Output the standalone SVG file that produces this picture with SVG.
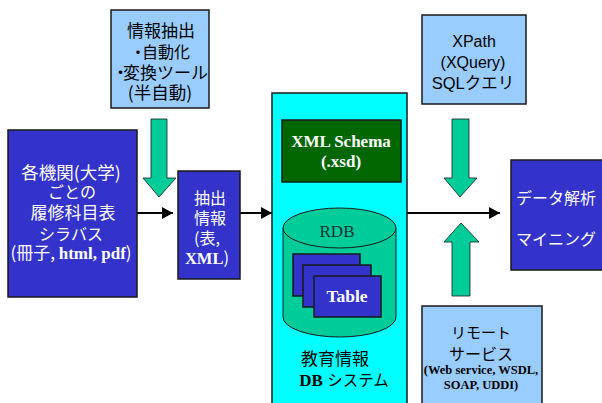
<svg xmlns="http://www.w3.org/2000/svg" width="602" height="403" viewBox="0 0 602 403">
<style>
text{font-family:"Liberation Serif","Noto Sans CJK JP",serif;text-anchor:middle}
.j{font-family:"Noto Sans CJK JP","Liberation Sans",sans-serif}
.s{font-family:"Liberation Sans","Noto Sans CJK JP",sans-serif}
.b{font-weight:bold}
.w{fill:#fff}
.k{fill:#000}
.lb{fill:#99ccff;stroke:#1a1a1a;stroke-width:1.5}
.db{fill:#3333cc;stroke:#1a1a1a;stroke-width:1.5}
.ga{fill:#00cc99;stroke:#1a1a1a;stroke-width:.8}
.c{stroke:#000;stroke-width:2;fill:none;marker-end:url(#h)}
</style>
<defs><marker id="h" markerUnits="userSpaceOnUse" markerWidth="12" markerHeight="12" refX="11" refY="6" orient="auto"><path d="M0 0L11 6L0 12Z" fill="#000"/></marker></defs>
<rect width="602" height="403" fill="#fff"/>
<g id="connectors">
<path class="c" d="M137 213H173"/>
<path class="c" d="M240 213H272"/>
<path class="c" d="M407 213H500"/>
</g>
<g id="extract-tool">
<rect class="lb" x="111" y="10" width="98" height="98"/>
<text class="j k" x="161" y="37" font-size="17">情報抽出</text>
<text class="j k" x="160" y="58" font-size="16">・<tspan dx="-4">自動化</tspan></text>
<text class="j k" x="160" y="79" font-size="17">・<tspan dx="-6">変換ツール</tspan></text>
<text class="j k" x="160" y="99" font-size="17.500">(半自動)</text>
</g>
<g id="arrow-extract"><path class="ga" d="M151 119H167V178H176L159 197L143 178H151Z"/></g>
<g id="sources">
<rect class="db" x="8" y="130" width="129" height="167"/>
<text class="j w" x="71" y="179" font-size="17.500">各機関(大学)</text>
<text class="j w" x="72" y="198" font-size="16">ごとの</text>
<text class="j w" x="73" y="219" font-size="17">履修科目表</text>
<text class="j w" x="71" y="240" font-size="16">シラバス</text>
<text class="w" x="71" y="259" font-size="17"><tspan class="j">(冊子, </tspan><tspan class="b">html, pdf</tspan><tspan class="j">)</tspan></text>
</g>
<g id="extracted">
<rect class="db" x="178" y="171" width="62" height="108"/>
<text class="j w" x="210" y="204" font-size="16">抽出</text>
<text class="j w" x="210" y="224" font-size="16">情報</text>
<text class="j w" x="207" y="244" font-size="16">(表,</text>
<text class="w b" x="207" y="264" font-size="16.500">XML<tspan class="j" font-weight="normal">)</tspan></text>
</g>
<g id="db-system">
<rect x="272" y="93" width="135" height="311" fill="#00ffff" stroke="#1a1a1a" stroke-width="1.500"/>
<text class="j k" x="335" y="365" font-size="17">教育情報</text>
<text class="k" x="344" y="386" font-size="17"><tspan class="b">DB </tspan><tspan class="j" font-size="15.500">システム</tspan></text>
</g>
<g id="schema">
<rect x="282" y="120" width="119" height="62" fill="#006600" stroke="#1a1a1a" stroke-width="1.500"/>
<text class="w b" x="341" y="147" font-size="17">XML Schema</text>
<text class="w b" x="341" y="167" font-size="17">(.xsd)</text>
</g>
<g id="rdb">
<path d="M283 228V317A56.500 20 0 0 0 396 317V228Z" fill="#00cc99" stroke="#1a1a1a" stroke-width="1"/>
<ellipse cx="339.500" cy="228" rx="56.500" ry="20" fill="#00cc99" stroke="#1a1a1a" stroke-width="1"/>
<text x="337" y="237" font-size="17" fill="#003333">RDB</text>
</g>
<g id="table-1"><rect class="db" x="293" y="254" width="67" height="42"/></g>
<g id="table-2"><rect class="db" x="303" y="265" width="68" height="42"/></g>
<g id="table-3">
<rect class="db" x="314" y="276" width="67" height="41"/>
<text class="w b" x="347" y="302" font-size="17.500">Table</text>
</g>
<g id="query">
<rect class="lb" x="422" y="15" width="104" height="89"/>
<text class="s k" x="474" y="47" font-size="16">XPath</text>
<text class="s k" x="473" y="68" font-size="16">(XQuery)</text>
<text class="s k" x="473" y="89" font-size="16.500">SQLクエリ</text>
</g>
<g id="arrow-query"><path class="ga" d="M452 119H469V178H477L460 197L444 178H452Z"/></g>
<g id="arrow-remote"><path class="ga" d="M452 296H470V242H479L461 223L444 242H452Z"/></g>
<g id="analysis">
<rect class="db" x="511" y="160" width="93" height="110"/>
<text class="j w" x="556" y="204" font-size="16">データ解析</text>
<text class="j w" x="556" y="245" font-size="16">マイニング</text>
</g>
<g id="remote">
<rect class="lb" x="422" y="306" width="120" height="99"/>
<text class="j k" x="481" y="338" font-size="15">リモート</text>
<text class="j k" x="481" y="360" font-size="16">サービス</text>
<text class="k b" x="481" y="374" font-size="12.500">(Web service, WSDL,</text>
<text class="k b" x="481" y="389" font-size="12.500">SOAP, UDDI)</text>
</g>
</svg>
